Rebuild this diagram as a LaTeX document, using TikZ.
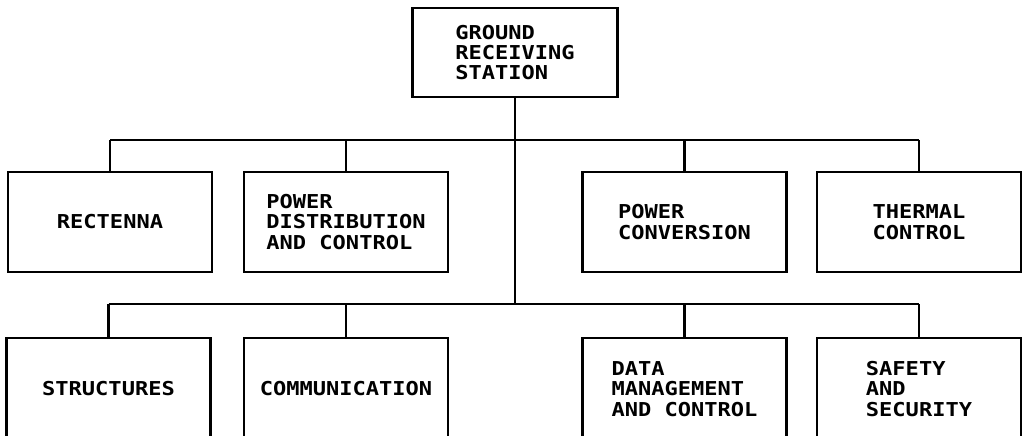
\documentclass[tikz,border=0pt]{standalone}
\usepackage{fontspec}
\newfontfamily\blockfont[FakeStretch=1.15]{DejaVu Sans Mono}
\usepackage{tikz}
\usetikzlibrary{positioning}

\begin{document}
\begin{tikzpicture}[line width=1.6pt,
    every node/.style={font=\blockfont\bfseries\fontsize{10.9}{11.6}\selectfont},
    box/.style={draw, align=left, inner sep=0pt, minimum width=4.08cm, minimum height=2cm}]
    % page frame, bottom row runs off the page
    \useasboundingbox (0,0) rectangle (20.44,8.72);
    \clip (0,0) rectangle (20.44,8.72);
    % top box
    \node[box, minimum width=4.1cm, minimum height=1.78cm] (grs) at (10.3,7.67) {GROUND\\RECEIVING\\STATION};
    % first row
    \node[box] (rect) at (2.2,4.28) {RECTENNA};
    \node[box] (pdc) at (6.92,4.28) {POWER\\DISTRIBUTION\\AND CONTROL};
    \node[box] (pconv) at (13.69,4.28) {POWER\\CONVERSION};
    \node[box] (therm) at (18.38,4.28) {THERMAL\\CONTROL};
    % second row (open at the bottom)
    \node[box, minimum height=2.04cm] (struct) at (2.17,0.94) {STRUCTURES};
    \node[box, minimum height=2.04cm] (comm) at (6.92,0.94) {COMMUNICATION};
    \node[box, minimum height=2.04cm] (dmc) at (13.69,0.94) {DATA\\MANAGEMENT\\AND CONTROL};
    \node[box, minimum height=2.04cm] (safe) at (18.38,0.94) {SAFETY\\AND\\SECURITY};
    % bus lines
    \coordinate (upbus) at (10.3,5.92);
    \coordinate (lowbus) at (10.3,2.64);
    \draw (grs.south) -- (lowbus);
    \draw (rect.north |- upbus) -- (therm.north |- upbus);
    \draw (struct.north |- lowbus) -- (safe.north |- lowbus);
    % branches
    \foreach \n in {rect,pdc,pconv,therm}
      \draw (\n.north) -- (\n.north |- upbus);
    \foreach \n in {struct,comm,dmc,safe}
      \draw (\n.north) -- (\n.north |- lowbus);
\end{tikzpicture}
\end{document}
